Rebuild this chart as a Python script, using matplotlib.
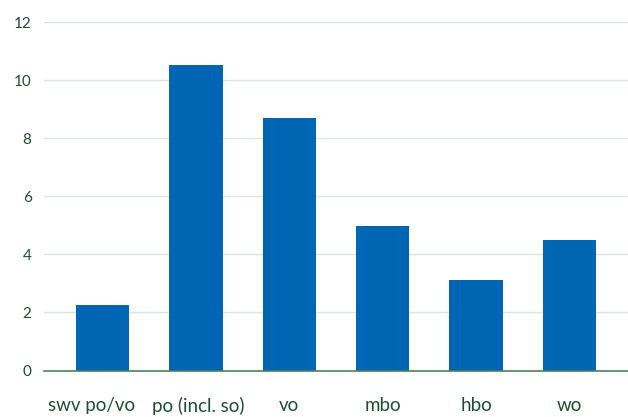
import numpy as np
import matplotlib.pyplot as plt
import matplotlib.transforms as mtransforms

categories = ['swv po/vo', 'po (incl. so)', 'vo', 'mbo', 'hbo', 'wo']
values = [2.26, 10.52, 8.69, 4.98, 3.12, 4.49]
yticks = [0, 2, 4, 6, 8, 10, 12]

text_color = '#1d4f2f'
bar_color = '#0066b3'

plt.rcParams['font.family'] = ['Lato', 'DejaVu Sans']

fig = plt.figure(figsize=(6.28, 4.17), dpi=100)
ax = fig.add_axes([44 / 628, 46.5 / 417, 1 - 44 / 628, (395 - 46.5) / 417])

x = np.arange(len(categories))
ax.bar(x, values, width=0.57, color=bar_color, zorder=3)

ax.set_xlim(-0.626, 5.626)
ax.set_ylim(0, 12)
ax.set_yticks(yticks)
ax.set_yticklabels([str(t) for t in yticks])
ax.set_xticks(x)
ax.set_xticklabels(categories)

ax.grid(axis='y', color='#dce5e1', linewidth=1, zorder=0)
for s in ['top', 'right', 'left']:
    ax.spines[s].set_visible(False)
ax.spines['bottom'].set_color('#4f7d5c')
ax.spines['bottom'].set_linewidth(1.2)
ax.spines['bottom'].set_zorder(4)

ax.tick_params(axis='y', length=0, pad=9, labelsize=11, labelcolor=text_color)
ax.tick_params(axis='x', length=0, pad=19, labelsize=13.5, labelcolor=text_color)

# nudge the first and second labels apart like the original
labels = ax.get_xticklabels()
shift = mtransforms.ScaledTranslation(-0.11, 0, fig.dpi_scale_trans)
labels[0].set_transform(labels[0].get_transform() + shift)
shift2 = mtransforms.ScaledTranslation(0.02, 0, fig.dpi_scale_trans)
labels[1].set_transform(labels[1].get_transform() + shift2)

fig.savefig('out.png', dpi=100)
